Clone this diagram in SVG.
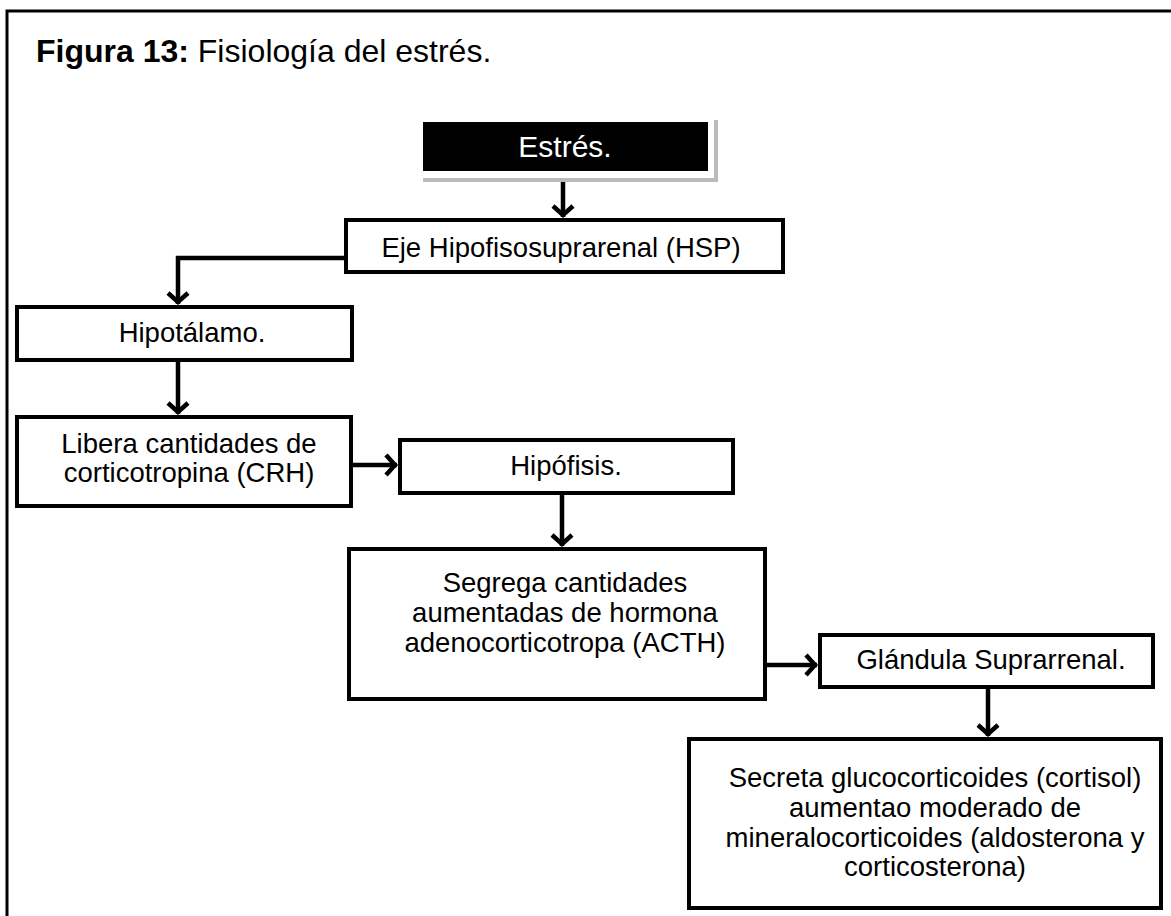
<svg xmlns="http://www.w3.org/2000/svg" width="1171" height="916" viewBox="0 0 1171 916">
<style>
text{font-family:"Liberation Sans",Arial,sans-serif;fill:#000;}
.t{font-size:27.5px;text-anchor:middle;}
.box{fill:#fff;stroke:#000;stroke-width:4;}
.conn{fill:none;stroke:#000;stroke-width:4.5;}
</style>
<defs>
<marker id="ah" viewBox="-16 -13 20 26" refX="0" refY="0" markerWidth="20" markerHeight="26" markerUnits="userSpaceOnUse" orient="auto">
<path d="M-11,-10 L-2,0 L-11,10" fill="none" stroke="#000" stroke-width="4.5" stroke-linejoin="miter"/>
</marker>
</defs>
<rect width="1171" height="916" fill="#fff"/>
<path d="M7,916 L7,11 L1171,11" fill="none" stroke="#000" stroke-width="3"/>
<text x="36" y="62" font-size="32"><tspan font-weight="bold">Figura 13:</tspan> Fisiología del estrés.</text>

<g id="estres">
<path d="M423,180 L716,180 L716,120" fill="none" stroke="#bbb" stroke-width="4"/>
<rect x="423" y="122" width="285" height="49" fill="#000"/>
<text x="565" y="157" font-size="30" text-anchor="middle" style="fill:#fff">Estrés.</text>
</g>
<g id="eje">
<rect class="box" x="346" y="220" width="437" height="52"/>
<text class="t" x="561" y="257">Eje Hipofisosuprarenal (HSP)</text>
</g>
<g id="hipotalamo">
<rect class="box" x="17" y="307" width="335" height="53"/>
<text class="t" x="192" y="342">Hipotálamo.</text>
</g>
<g id="libera">
<rect class="box" x="17" y="417" width="334" height="89"/>
<text class="t" x="189" y="453">Libera cantidades de</text>
<text class="t" x="189" y="482">corticotropina (CRH)</text>
</g>
<g id="hipofisis">
<rect class="box" x="400" y="440" width="333" height="53"/>
<text class="t" x="566" y="475">Hipófisis.</text>
</g>
<g id="segrega">
<rect class="box" x="349" y="549" width="416" height="150"/>
<text class="t" x="565" y="592">Segrega cantidades</text>
<text class="t" x="565" y="622">aumentadas de hormona</text>
<text class="t" x="565" y="652">adenocorticotropa (ACTH)</text>
</g>
<g id="glandula">
<rect class="box" x="820" y="635" width="333" height="52"/>
<text class="t" x="991" y="669">Glándula Suprarrenal.</text>
</g>
<g id="secreta">
<rect class="box" x="689" y="739" width="472" height="169"/>
<text class="t" x="935" y="787">Secreta glucocorticoides (cortisol)</text>
<text class="t" x="935" y="817">aumentao moderado de</text>
<text class="t" x="935" y="847">mineralocorticoides (aldosterona y</text>
<text class="t" x="935" y="876">corticosterona)</text>
</g>

<g id="connectors">
<path class="conn" d="M563,182 L563,217" marker-end="url(#ah)"/>
<path class="conn" d="M344,258 L178,258 L178,304" marker-end="url(#ah)"/>
<path class="conn" d="M178,362 L178,414" marker-end="url(#ah)"/>
<path class="conn" d="M353,465 L397,465" marker-end="url(#ah)"/>
<path class="conn" d="M562,495 L562,546" marker-end="url(#ah)"/>
<path class="conn" d="M767,665 L817,665" marker-end="url(#ah)"/>
<path class="conn" d="M988,689 L988,736" marker-end="url(#ah)"/>
</g>
</svg>
